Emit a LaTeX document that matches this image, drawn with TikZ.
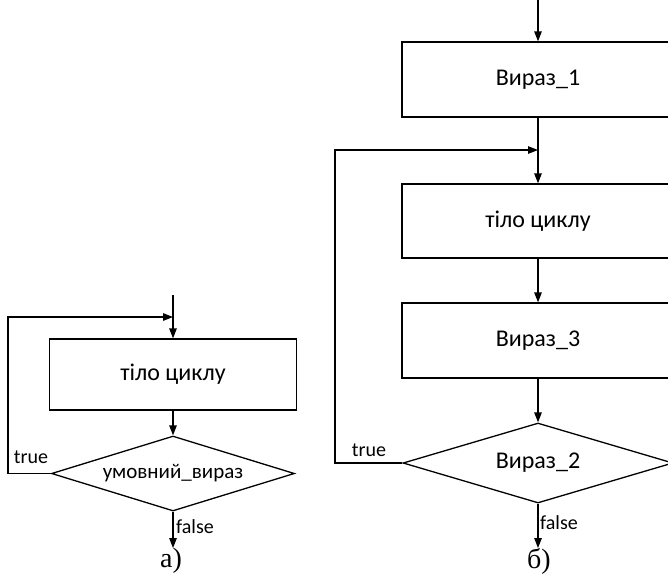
\documentclass[tikz,border=0pt]{standalone}
\usepackage{fontspec}
\setmainfont{Carlito}
\newfontfamily\captfont{Liberation Serif}
\usetikzlibrary{shapes.geometric,arrows.meta}
\begin{document}
\begin{tikzpicture}[x=1pt,y=-1pt,
  line width=1.3pt,
  flow/.style={-{Triangle[length=10pt,width=7.5pt]}},
  blk/.style={draw,rectangle,inner sep=0pt,font=\fontsize{24}{28}\selectfont},
  cond/.style={draw,diamond,aspect=3.2,inner sep=0pt,font=\fontsize{24}{28}\selectfont},
  lbl/.style={inner sep=0pt,font=\fontsize{20}{24}\selectfont},
  capt/.style={inner sep=0pt,font=\captfont\fontsize{28}{32}\selectfont}]
\useasboundingbox (0,0) rectangle (668,579);

% ---- a) loop with postcondition
\coordinate (topA) at (173,295);
\coordinate (joinA) at (173,317);
\coordinate (cornerA) at (8,317);
\node[blk,minimum width=247pt,minimum height=71pt] (bodyA) at (173,374.5) {тіло циклу};
\node[cond,minimum width=243pt,minimum height=75pt,font=\fontsize{21}{25}\selectfont] (condA) at (173,473.5) {умовний\_вираз};
\coordinate (endA) at (173,548);
\draw[flow] (topA) -- (bodyA.north);
\draw[flow] (bodyA.south) -- (condA.north);
\draw[flow] (condA.west) -| (cornerA) -- (joinA);
\draw[flow] (condA.south) -- (endA);
\node[lbl] (trueA) at (31,457) {true};
\node[lbl] (falseA) at (195,527) {false};
\node[capt] (captA) at (171,561) {а)};

% ---- b) loop with counter
\coordinate (topB) at (538,0);
\node[blk,minimum width=272pt,minimum height=75pt] (initB) at (538,79.5) {Вираз\_1};
\coordinate (joinB) at (538,150);
\coordinate (cornerB) at (335,150);
\node[blk,minimum width=272pt,minimum height=74pt] (bodyB) at (538,221) {тіло циклу};
\node[blk,minimum width=272pt,minimum height=75pt] (stepB) at (538,340.5) {Вираз\_3};
\node[cond,minimum width=270pt,minimum height=80pt] (condB) at (538,463) {Вираз\_2};
\coordinate (endB) at (538,548);
\draw[flow] (topB) -- (initB.north);
\draw[flow] (initB.south) -- (bodyB.north);
\draw[flow] (bodyB.south) -- (stepB.north);
\draw[flow] (stepB.south) -- (condB.north);
\draw[flow] (condB.west) -| (cornerB) -- (joinB);
\draw[flow] (condB.south) -- (endB);
\node[lbl] (trueB) at (369,450) {true};
\node[lbl] (falseB) at (559,523) {false};
\node[capt] (captB) at (539,561) {б)};
\end{tikzpicture}
\end{document}
